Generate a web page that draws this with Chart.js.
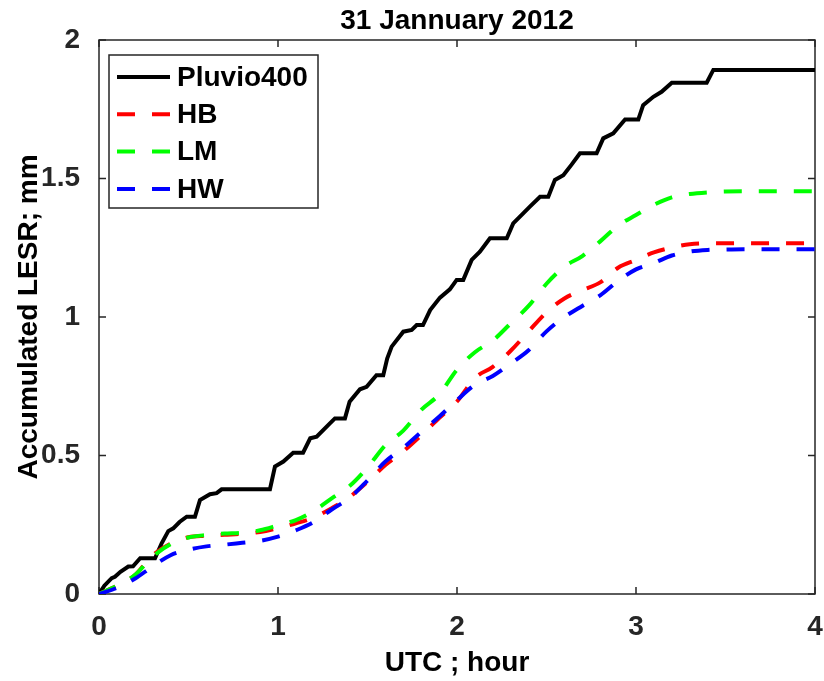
<!DOCTYPE html>
<html lang="en">
<head>
  <meta charset="UTF-8">
  <title>Accumulated LESR</title>
  <script src="https://cdn.jsdelivr.net/npm/chart.js"></script>
  <style>
    body {
      margin: 0;
      background-color: #ffffff;
    }

    #wrap {
      width: 824px;
      height: 681px;
    }
  </style>
</head>
<body>
  <div id="wrap">
    <canvas id="lesrChart" width="824" height="681"></canvas>
  </div>

  <script>
    // Pluvio400 gauge (stepped accumulation)
    const pluvioHours = [0, 0.03, 0.071, 0.089, 0.12, 0.164, 0.19, 0.23, 0.313, 0.35, 0.387, 0.415, 0.45, 0.49, 0.536,
      0.564, 0.62, 0.657, 0.685, 0.955, 0.983, 1.03, 1.085, 1.14, 1.18, 1.216, 1.29, 1.318, 1.374, 1.40, 1.458,
      1.495, 1.55, 1.588, 1.61, 1.635, 1.70, 1.747, 1.775, 1.81, 1.85, 1.905, 1.96, 1.998, 2.035, 2.082, 2.128,
      2.184, 2.278, 2.314, 2.36, 2.41, 2.464, 2.51, 2.547, 2.594, 2.64, 2.687, 2.78, 2.817, 2.873, 2.939, 3.013,
      3.04, 3.097, 3.143, 3.2, 3.395, 3.432, 4.0];
    const pluvioMm = [0, 0.03, 0.057, 0.062, 0.08, 0.099, 0.10, 0.129, 0.129, 0.183, 0.227, 0.237, 0.26, 0.279, 0.279,
      0.339, 0.36, 0.364, 0.378, 0.378, 0.46, 0.478, 0.51, 0.51, 0.562, 0.568, 0.616, 0.634, 0.634, 0.694, 0.739,
      0.748, 0.79, 0.79, 0.85, 0.893, 0.947, 0.953, 0.971, 0.971, 1.025, 1.07, 1.10, 1.134, 1.134, 1.206, 1.236,
      1.284, 1.284, 1.338, 1.368, 1.40, 1.434, 1.434, 1.495, 1.512, 1.55, 1.591, 1.591, 1.645, 1.663, 1.713, 1.713,
      1.765, 1.795, 1.813, 1.846, 1.846, 1.892, 1.892];

    // model curves, sampled every 0.1 h
    const modelHours = [0, 0.1, 0.2, 0.3, 0.4, 0.5, 0.6, 0.7, 0.8, 0.9, 1.0, 1.1, 1.2, 1.3, 1.4, 1.5, 1.6, 1.7, 1.8, 1.9,
      2.0, 2.1, 2.2, 2.3, 2.4, 2.5, 2.6, 2.7, 2.8, 2.9, 3.0, 3.1, 3.2, 3.3, 3.4, 3.5, 3.6, 3.7, 3.8, 3.9, 4.0];
    const hbMm = [0, 0.03, 0.068, 0.14, 0.182, 0.205, 0.21, 0.214, 0.217, 0.224, 0.238, 0.255, 0.276, 0.31, 0.35, 0.405,
      0.466, 0.515, 0.573, 0.635, 0.695, 0.78, 0.82, 0.878, 0.948, 1.017, 1.067, 1.097, 1.125, 1.178, 1.206, 1.233,
      1.251, 1.263, 1.266, 1.266, 1.266, 1.266, 1.266, 1.266, 1.266];
    const lmMm = [0, 0.03, 0.068, 0.135, 0.18, 0.204, 0.213, 0.218, 0.221, 0.23, 0.248, 0.267, 0.30, 0.345, 0.39, 0.457,
      0.537, 0.59, 0.665, 0.72, 0.81, 0.873, 0.915, 0.977, 1.04, 1.12, 1.182, 1.22, 1.273, 1.33, 1.368, 1.405,
      1.432, 1.444, 1.45, 1.453, 1.454, 1.454, 1.454, 1.454, 1.454];
    const hwMm = [0, 0.022, 0.055, 0.1, 0.14, 0.16, 0.172, 0.178, 0.185, 0.192, 0.207, 0.23, 0.26, 0.305, 0.347, 0.41,
      0.478, 0.528, 0.585, 0.64, 0.7, 0.755, 0.787, 0.832, 0.88, 0.948, 1.0, 1.04, 1.078, 1.13, 1.172, 1.195,
      1.222, 1.236, 1.242, 1.244, 1.245, 1.245, 1.245, 1.245, 1.245];

    const xTicks = [0, 1, 2, 3, 4];
    const yTicks = [0, 0.5, 1, 1.5, 2];

    const FONT = '"Liberation Sans", Arial, sans-serif';
    const AXIS_COLOR = '#262626';

    function toPoints(xs, ys) {
      return xs.map((x, i) => ({ x: x, y: ys[i] }));
    }

    // box around the axes with inward ticks, matlab style
    const boxPlugin = {
      id: 'box',
      beforeDatasetsDraw(chart) {
        const { ctx, chartArea: a, scales } = chart;
        const tl = 7;
        ctx.save();
        ctx.strokeStyle = AXIS_COLOR;
        ctx.lineWidth = 1.5;
        ctx.strokeRect(a.left, a.top, a.right - a.left, a.bottom - a.top);
        ctx.beginPath();
        xTicks.forEach(v => {
          const px = scales.x.getPixelForValue(v);
          ctx.moveTo(px, a.bottom); ctx.lineTo(px, a.bottom - tl);
          ctx.moveTo(px, a.top); ctx.lineTo(px, a.top + tl);
        });
        yTicks.forEach(v => {
          const py = scales.y.getPixelForValue(v);
          ctx.moveTo(a.left, py); ctx.lineTo(a.left + tl, py);
          ctx.moveTo(a.right, py); ctx.lineTo(a.right - tl, py);
        });
        ctx.stroke();
        ctx.restore();
      }
    };

    // legend box in the upper left corner of the axes
    const legendBoxPlugin = {
      id: 'legendBox',
      afterDraw(chart) {
        const { ctx, chartArea: a } = chart;
        const x0 = a.left + 10, y0 = a.top + 15;
        const w = 209, h = 153;
        ctx.save();
        ctx.fillStyle = '#ffffff';
        ctx.fillRect(x0, y0, w, h);
        ctx.strokeStyle = AXIS_COLOR;
        ctx.lineWidth = 1.5;
        ctx.strokeRect(x0, y0, w, h);
        chart.data.datasets.forEach((ds, i) => {
          const y = y0 + 22 + i * 37.3;
          ctx.beginPath();
          ctx.strokeStyle = ds.borderColor;
          ctx.lineWidth = ds.borderWidth;
          ctx.setLineDash(ds.borderDash || []);
          ctx.moveTo(x0 + 8, y);
          ctx.lineTo(x0 + 61, y);
          ctx.stroke();
          ctx.setLineDash([]);
          ctx.fillStyle = '#000000';
          ctx.font = 'bold 28px ' + FONT;
          ctx.textBaseline = 'middle';
          ctx.textAlign = 'left';
          ctx.fillText(ds.label, x0 + 68, y + 1);
        });
        ctx.restore();
      }
    };

    const ctx = document.getElementById('lesrChart').getContext('2d');
    new Chart(ctx, {
      type: 'line',
      data: {
        datasets: [
          {
            label: 'Pluvio400',
            data: toPoints(pluvioHours, pluvioMm),
            borderColor: '#000000',
            borderWidth: 4,
            tension: 0,
            order: 4
          },
          {
            label: 'HB',
            data: toPoints(modelHours, hbMm),
            borderColor: '#ff0000',
            borderWidth: 4,
            borderDash: [18, 17],
            cubicInterpolationMode: 'monotone',
            order: 3
          },
          {
            label: 'LM',
            data: toPoints(modelHours, lmMm),
            borderColor: '#00ff00',
            borderWidth: 4,
            borderDash: [18, 17],
            cubicInterpolationMode: 'monotone',
            order: 2
          },
          {
            label: 'HW',
            data: toPoints(modelHours, hwMm),
            borderColor: '#0000ff',
            borderWidth: 4,
            borderDash: [18, 17],
            cubicInterpolationMode: 'monotone',
            order: 1
          }
        ]
      },
      options: {
        responsive: false,
        animation: false,
        layout: {
          padding: { left: 0, right: 9, top: 0, bottom: 0 }
        },
        elements: {
          point: { radius: 0 }
        },
        plugins: {
          legend: { display: false },
          tooltip: { enabled: false },
          title: {
            display: true,
            fullSize: false,
            text: '31 Jannuary 2012',
            color: '#000000',
            font: { family: FONT, size: 28, weight: 'bold', lineHeight: 1.2 },
            padding: { top: 4, bottom: 2.4 }
          }
        },
        scales: {
          x: {
            type: 'linear',
            min: 0,
            max: 4,
            afterFit: scale => {
              scale.height = 87;
              scale.paddingLeft = 0;
              scale.paddingRight = 0;
            },
            afterBuildTicks: scale => { scale.ticks = xTicks.map(v => ({ value: v })); },
            grid: { display: false },
            border: { display: false },
            ticks: {
              color: AXIS_COLOR,
              padding: 8,
              font: { family: FONT, size: 28, weight: 'bold' },
              callback: v => String(v)
            },
            title: {
              display: true,
              text: 'UTC ; hour',
              color: '#000000',
              font: { family: FONT, size: 28, weight: 'bold', lineHeight: 1.2 },
              padding: { top: 0, bottom: 1 }
            }
          },
          y: {
            min: 0,
            max: 2,
            afterFit: scale => {
              scale.width = 99;
              scale.paddingTop = 0;
              scale.paddingBottom = 0;
            },
            afterBuildTicks: scale => { scale.ticks = yTicks.map(v => ({ value: v })); },
            grid: { display: false },
            border: { display: false },
            ticks: {
              color: AXIS_COLOR,
              padding: 11,
              font: { family: FONT, size: 28, weight: 'bold' },
              callback: v => String(v)
            },
            title: {
              display: true,
              text: 'Accumulated LESR; mm',
              color: '#000000',
              font: { family: FONT, size: 28, weight: 'bold', lineHeight: 1.2 },
              padding: { top: 12, bottom: 0 }
            }
          }
        }
      },
      plugins: [boxPlugin, legendBoxPlugin]
    });
  </script>
</body>
</html>
